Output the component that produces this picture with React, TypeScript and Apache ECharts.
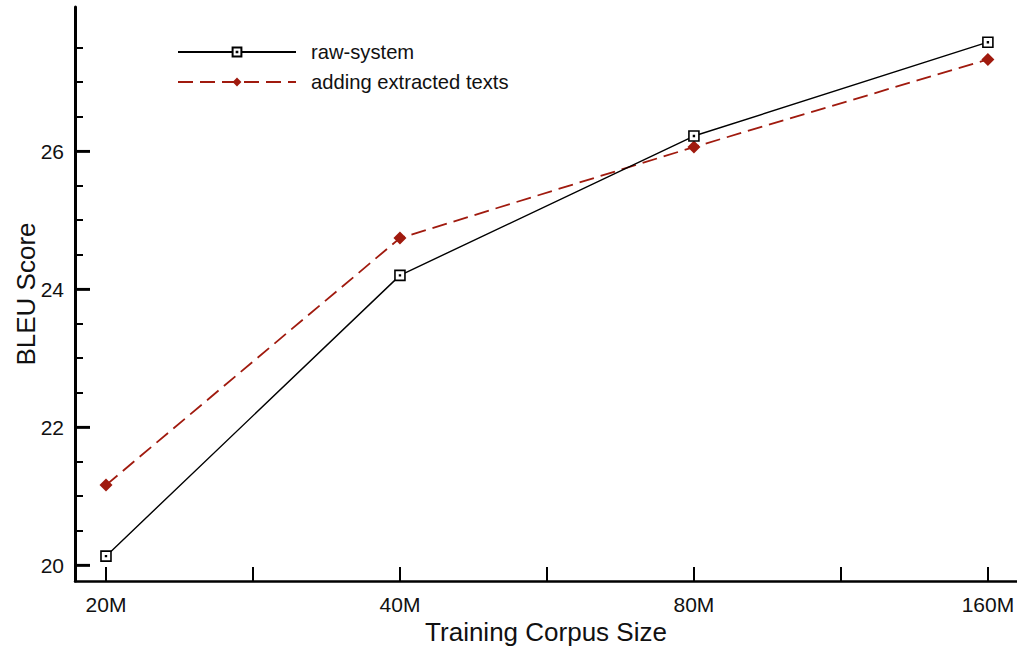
import React, { useEffect, useRef } from "react";
import * as echarts from "echarts";

const categories = ["20M", "40M", "80M", "160M"];
const rawSystem = [20.13, 24.2, 26.22, 27.58];
const addingExtracted = [21.16, 24.74, 26.06, 27.33];
const yMajorTicks = [20, 22, 24, 26];
const yMinorTicks = [20.5, 21, 21.5, 22.5, 23, 23.5, 24.5, 25, 25.5, 26.5, 27, 27.5];
const xTicks = [0, 0.5, 1, 1.5, 2, 2.5, 3];
const xLabelPositions = [0, 1, 2, 3];

const FONT = "'Liberation Sans', Arial, Helvetica, sans-serif";
const RED = "#a01a0e";

export default function App() {
  const ref = useRef<HTMLDivElement>(null);
  useEffect(() => {
    if (!ref.current) return;
    const chart = echarts.init(ref.current, null, { renderer: "svg" });
    const squareDot = "path://M0,0H10V10H0Z M4.6,4.6H5.4V5.4H4.6Z";
    const Y_MIN = 19.77;
    const Y_MAX = 28.09;
    const X_MIN = -0.1054;
    const X_MAX = 3.099;
    chart.setOption({
      animation: false,
      backgroundColor: "#ffffff",
      textStyle: { fontFamily: FONT },
      grid: { left: 75, right: 0, top: 7, bottom: 69, containLabel: false, outerBoundsMode: "none" },
      legend: {
        orient: "vertical",
        left: 177,
        top: 40,
        padding: 0,
        itemWidth: 118,
        itemHeight: 11,
        itemGap: 6,
        textStyle: { fontSize: 20.2, color: "#111", fontFamily: FONT, padding: [0, 0, 0, 10], lineHeight: 24 },
        data: ["raw-system", "adding extracted texts"],
      },
      xAxis: {
        type: "value",
        min: X_MIN,
        max: X_MAX,
        name: "Training Corpus Size",
        nameLocation: "middle",
        nameGap: 38,
        nameMoveOverlap: false,
        nameTextStyle: { fontSize: 26, color: "#111", fontFamily: FONT },
        axisLine: { show: true, onZero: false, lineStyle: { color: "#000", width: 2.5 } },
        axisTick: { show: true, inside: true, length: 14, customValues: xTicks.slice(), lineStyle: { color: "#000", width: 2 } },
        axisLabel: {
          customValues: xLabelPositions.slice(),
          margin: 13,
          fontSize: 21,
          color: "#111",
          fontFamily: FONT,
          formatter: (v: number) => categories[Math.round(v)] ?? "",
        },
        splitLine: { show: false },
      },
      yAxis: [
        {
          type: "value",
          position: "left",
          offset: 0,
          min: Y_MIN,
          max: Y_MAX,
          name: "BLEU Score",
          nameLocation: "middle",
          nameGap: 36,
          nameMoveOverlap: false,
          nameTextStyle: { fontSize: 26, color: "#111", fontFamily: FONT },
          axisLine: { show: true, onZero: false, lineStyle: { color: "#000", width: 3 } },
          axisTick: { show: true, inside: true, length: 15, customValues: yMajorTicks.slice(), lineStyle: { color: "#000", width: 2.5 } },
          axisLabel: { customValues: yMajorTicks.slice(), margin: 11, fontSize: 21, color: "#111", fontFamily: FONT },
          splitLine: { show: false },
        },
        {
          type: "value",
          position: "left",
          offset: 0,
          min: Y_MIN,
          max: Y_MAX,
          axisLine: { show: false, onZero: false },
          axisTick: { show: true, inside: true, length: 8, customValues: yMinorTicks.slice(), lineStyle: { color: "#000", width: 2 } },
          axisLabel: { show: false },
          splitLine: { show: false },
        },
      ],
      series: [
        {
          name: "raw-system",
          type: "line",
          data: rawSystem.map((v, i) => [i, v]),
          symbol: squareDot,
          symbolSize: 10,
          showAllSymbol: true,
          lineStyle: { color: "#000", width: 1.4 },
          itemStyle: { color: "#ffffff", borderColor: "#000", borderWidth: 1.6 },
          z: 3,
        },
        {
          name: "adding extracted texts",
          type: "line",
          data: addingExtracted.map((v, i) => [i, v]),
          symbol: "diamond",
          symbolSize: 13,
          lineStyle: { color: RED, width: 1.8, type: [15, 7] },
          itemStyle: { color: RED, borderColor: RED, borderWidth: 0 },
          z: 2,
        },
      ],
    });
    // Major y ticks placed through the axis scale (convertToPixel)
    const x0 = chart.convertToPixel({ xAxisIndex: 0 }, X_MIN) as number;
    const majorTickEls = yMajorTicks.map((v) => {
      const y = chart.convertToPixel({ yAxisIndex: 0 }, v) as number;
      return {
        type: "line",
        silent: true,
        z: 10,
        shape: { x1: x0, y1: y, x2: x0 + 15, y2: y },
        style: { stroke: "#000", lineWidth: 2.5 },
      };
    });
    chart.setOption({ graphic: majorTickEls });
    return () => chart.dispose();
  }, []);
  return (
    <div
      ref={ref}
      style={{ position: "fixed", left: 0, top: 0, width: 1017, height: 650, background: "#fff" }}
    />
  );
}
